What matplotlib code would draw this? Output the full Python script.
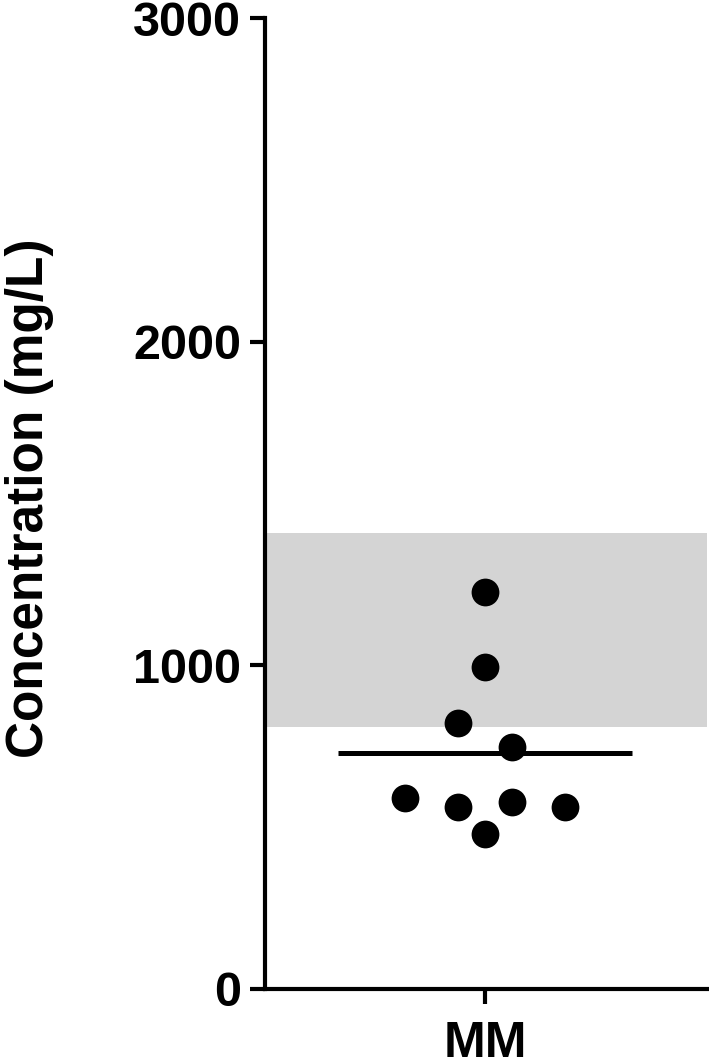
import matplotlib
matplotlib.use("Agg")
import matplotlib.pyplot as plt

# data
group_label = "MM"
x_offsets = [0.0, 0.0, -0.123, 0.123, -0.364, -0.123, 0.123, 0.364, 0.0]
concentrations = [1226, 995, 822, 748, 590, 562, 578, 562, 479]
mean_value = sum(concentrations) / len(concentrations)
ref_low, ref_high = 810, 1408
y_ticks = [0, 1000, 2000, 3000]

plt.rcParams['font.family'] = ['Liberation Sans', 'DejaVu Sans']
plt.rcParams['font.weight'] = 'bold'

fig = plt.figure(figsize=(7.09, 10.60), dpi=100)
ax = fig.add_axes([265 / 709, 71 / 1060, 444 / 709, (989 - 18) / 1060])

# reference range band
ax.axhspan(ref_low, ref_high, xmin=0, xmax=0.995, color='#d4d4d4', lw=0, zorder=1)

# individual points
ax.scatter(x_offsets, concentrations, s=400, color='black', zorder=3, linewidths=0)

# mean line
ax.plot([-0.668, 0.668], [mean_value, mean_value], color='black', lw=3.6,
        solid_capstyle='butt', zorder=2)

ax.set_xlim(-1, 1.018)
ax.set_ylim(0, 3000)
ax.set_yticks(y_ticks)
ax.set_yticklabels([str(t) for t in y_ticks], fontsize=35, fontweight='bold')
ax.set_xticks([0])
ax.set_xticklabels([group_label], fontsize=36, fontweight='bold')

for side in ['top', 'right']:
    ax.spines[side].set_visible(False)
for side in ['left', 'bottom']:
    ax.spines[side].set_linewidth(3.0)
    ax.spines[side].set_capstyle('projecting')

ax.tick_params(axis='y', length=11, width=3.0, pad=6)
ax.tick_params(axis='x', length=11, width=3.0, pad=12)

ax.set_ylabel('Concentration (mg/L)', fontsize=37, fontweight='bold')
ax.yaxis.set_label_coords(-0.475, 0.505, transform=ax.transAxes)

fig.savefig('out.png', dpi=100)
